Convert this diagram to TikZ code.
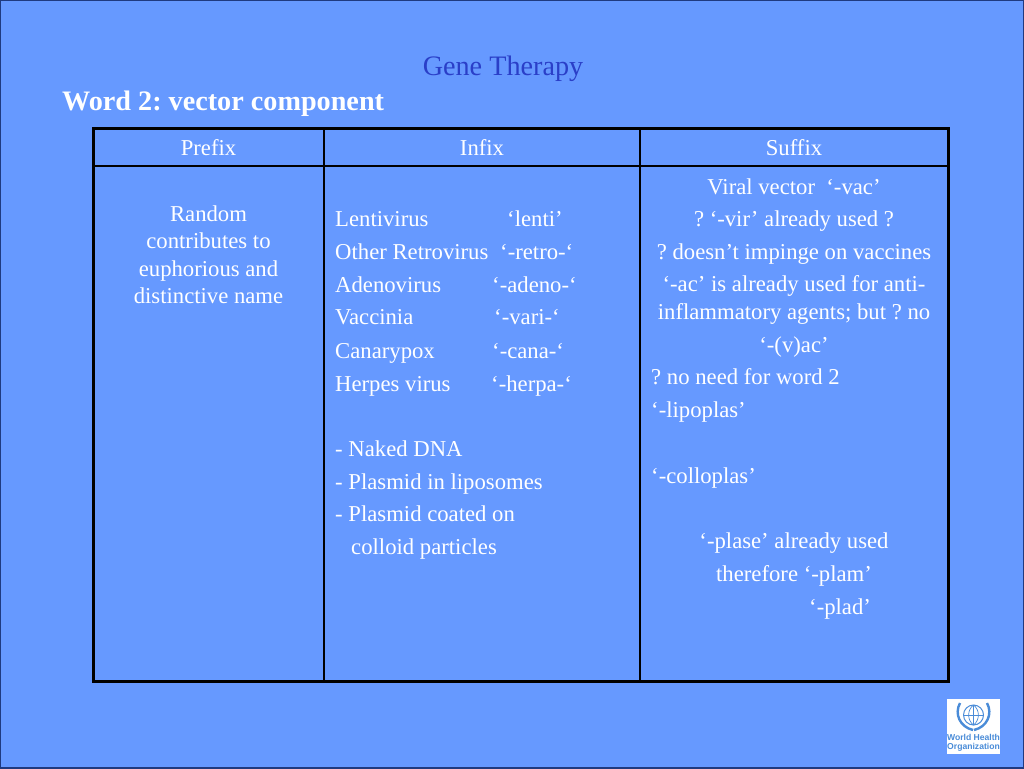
\documentclass[tikz,border=0pt]{standalone}
\usepackage{fontspec}
\setmainfont{Liberation Serif}
\newfontfamily\whofont{Liberation Sans}
\definecolor{slidebg}{HTML}{6699FF}
\definecolor{titleblue}{HTML}{2A3FC8}
\definecolor{edgeblue}{HTML}{1F3A80}
\definecolor{whoblue}{HTML}{4A8CD8}
\frenchspacing
\tikzset{
	celltext/.style={text=white, font=\fontsize{22.7}{22.7}\selectfont, inner sep=0pt, text height=18pt, text depth=4pt},
	cellline/.style={anchor=west, celltext},
	cellmid/.style={anchor=center, celltext},
	leaf/.style={whoblue, line width=2.4pt},
}
\begin{document}
\begin{tikzpicture}[x=1pt,y=-1pt]
	 \useasboundingbox (0,0) rectangle (1024,768);
	 \fill[slidebg] (0,0) rectangle (1024,768);
	 \draw[edgeblue, line width=1.5pt] (0,0) rectangle (1024,768);
	 %
	 \node[text=titleblue, font=\fontsize{28.2}{28.2}\selectfont, inner sep=0pt, text height=20pt, text depth=6pt] (title) at (503,68) {Gene Therapy};
	 \node[anchor=west, text=white, font=\bfseries\fontsize{28.2}{28.2}\selectfont, inner sep=0pt, text height=20pt, text depth=6pt] (word) at (62,103) {Word 2: vector component};
	 %
	 \draw[line width=3pt] (93,128) rectangle (948,681);
	 \draw[line width=1.2pt] (93,166) -- (948,166);
	 \draw[line width=1.2pt] (324,128) -- (324,681);
	 \draw[line width=1.2pt] (640,128) -- (640,681);
	 %
	 \node[cellmid] (prefix) at (208.5,148) {Prefix};
	 \node[cellmid] (infix) at (482,148) {Infix};
	 \node[cellmid] (suffix) at (794,148) {Suffix};
	 %
	 \foreach \y/\txt in {214/Random, 241/contributes to, 269/euphorious and, 296/distinctive name}
	 	\node[cellmid] at (208.5,\y) {\txt};
	 %
	 \foreach \y/\txt in {219/Lentivirus, 252/Other Retrovirus, 285/Adenovirus, 317/Vaccinia, 351/Canarypox, 384/Herpes virus, 449/- Naked DNA, 482/- Plasmid in liposomes, 514/- Plasmid coated on}
	 	\node[cellline] at (335,\y) {\txt};
	 \node[cellline] at (351,547) {colloid particles};
	 \foreach \x/\y/\txt in {507/219/‘lenti’, 500/252/‘-retro-‘, 492/285/‘-adeno-‘, 494/317/‘-vari-‘, 492/351/‘-cana-‘, 491/384/‘-herpa-‘}
	 	\node[cellline] at (\x,\y) {\txt};
	 %
	 \foreach \y/\txt in {187/Viral vector\ \ ‘-vac’, 219/? ‘-vir’ already used ?, 252/? doesn’t impinge on vaccines, 284/‘-ac’ is already used for anti-, 312/inflammatory agents; but ? no, 345/‘-(v)ac’, 541/‘-plase’ already used, 574/therefore ‘-plam’}
	 	\node[cellmid] at (794,\y) {\txt};
	 \foreach \y/\txt in {377/? no need for word 2, 410/‘-lipoplas’, 476/‘-colloplas’}
	 	\node[cellline] at (651,\y) {\txt};
	 \node[cellline] at (809,607) {‘-plad’};
	 %
	 \fill[white] (947,699) rectangle (1000,754);
	 \draw[whoblue, line width=1pt] (973.5,715) circle (10);
	 \draw[whoblue, line width=.7pt] (963.5,715) -- (983.5,715) (973.5,705) -- (973.5,725);
	 \draw[whoblue, line width=.7pt] (973.5,705) .. controls (967,710) and (967,720) .. (973.5,725);
	 \draw[whoblue, line width=.7pt] (973.5,705) .. controls (980,710) and (980,720) .. (973.5,725);
	 \draw[leaf] (960,703) .. controls (954,714) and (960,727) .. (973,730);
	 \draw[leaf] (987,703) .. controls (993,714) and (987,727) .. (974,730);
	 \node[text=whoblue, font=\whofont\bfseries\fontsize{8.6}{9.4}\selectfont, align=center, inner sep=0pt] (who) at (973.5,743) {World Health\\Organization};
\end{tikzpicture}
\end{document}
